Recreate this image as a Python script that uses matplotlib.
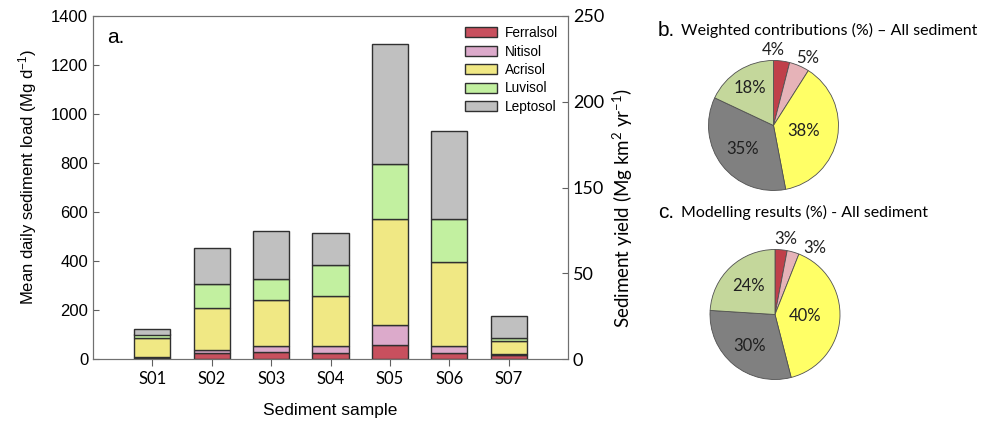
import matplotlib
matplotlib.use("Agg")
import matplotlib.pyplot as plt
import numpy as np

plt.rcParams["font.family"] = ["Liberation Sans", "DejaVu Sans"]
plt.rcParams["mathtext.default"] = "regular"

# bar data (Mg d-1)
samples = ["S01", "S02", "S03", "S04", "S05", "S06", "S07"]
soils = ["Ferralsol", "Nitisol", "Acrisol", "Luvisol", "Leptosol"]
ferralsol = [6, 23, 27, 23, 56, 23, 15]
nitisol = [3, 15, 25, 30, 81, 29, 4]
acrisol = [75, 170, 189, 205, 436, 343, 54]
luvisol = [16, 99, 84, 124, 224, 176, 14]
leptosol = [22, 147, 199, 131, 487, 358, 90]

# right axis: evenly spaced ticks, labelled as in the original (no 100)
yield_ticks = [0, 62.5, 125, 187.5, 250]
yield_labels = ["0", "50", "150", "200", "250"]

# pie data (%)
pie_b = [4, 5, 38, 35, 18]
pie_c = [3, 3, 40, 30, 24]

bar_colors = ["#c8505e", "#dcaacb", "#f0e884", "#c2f0a0", "#c0c0c0"]
pie_colors = ["#c0404a", "#e6b3b8", "#ffff66", "#808080", "#c4d79b"]

W, H = 985, 422
fig = plt.figure(figsize=(W / 100, H / 100), dpi=100)

ax = fig.add_axes([93 / W, 1 - 359 / H, (568 - 93) / W, (359 - 16) / H])
x = np.arange(len(samples))
bottom = np.zeros(len(samples))
for name, vals, col in zip(soils, [ferralsol, nitisol, acrisol, luvisol, leptosol], bar_colors):
    ax.bar(x, vals, 0.61, bottom=bottom, color=col, edgecolor="#303030",
           linewidth=1.0, label=name)
    bottom += np.array(vals)

ax.set_xlim(-1, 7)
ax.set_ylim(0, 1400)
ax.set_yticks(range(0, 1401, 200))
ax.set_xticks(x)
ax.set_xticklabels(samples, family="Lato", fontsize=12)
for lbl in ax.get_yticklabels():
    lbl.set_fontsize(12)
ax.tick_params(axis="y", direction="in", length=4, color="#606060")
ax.tick_params(axis="x", direction="out", length=5, color="#606060")
for s in ax.spines.values():
    s.set_color("#707070")
ax.set_ylabel("Mean daily sediment load (Mg d$^{-1}$)", fontsize=12)
ax.yaxis.set_label_coords(-0.113, 0.53)
ax.set_xlabel("Sediment sample", fontsize=12.5, labelpad=12)
ax.text(0.03, 0.965, "a.", transform=ax.transAxes, fontsize=15, va="top")
leg = ax.legend(loc="upper right", frameon=False, prop={"size": 9.8},
                handlelength=2.3, handleheight=0.75, labelspacing=0.32, handletextpad=0.6,
                borderaxespad=0.35)
for p in leg.get_patches():
    p.set_edgecolor("#303030")

ax2 = ax.twinx()
ax2.set_ylim(0, 250)
ax2.set_yticks(yield_ticks)
ax2.set_yticklabels(yield_labels, family="Lato", fontsize=13)
ax2.tick_params(axis="y", direction="in", length=4, color="#606060")
for s in ax2.spines.values():
    s.set_color("#707070")
ax2.set_ylabel("Sediment yield (Mg km$^{2}$ yr$^{-1}$)", family="Lato", fontsize=13.5)
ax2.yaxis.set_label_coords(1.09, 0.44)


def draw_pie(cx, cy, r, vals, radii, shifts, title_letter, title, ty):
    pa = fig.add_axes([(cx - r) / W, 1 - (cy + r) / H, 2 * r / W, 2 * r / H])
    wedges, _ = pa.pie(vals, colors=pie_colors, startangle=90, counterclock=False,
                       wedgeprops={"edgecolor": "#505050", "linewidth": 0.6})
    pa.set_xlim(-1, 1)
    pa.set_ylim(-1, 1)
    pa.set_aspect("equal")
    pa.axis("off")
    for w, v, rr, sh in zip(wedges, vals, radii, shifts):
        ang = np.deg2rad((w.theta1 + w.theta2) / 2 + sh)
        pa.text(rr * np.cos(ang), rr * np.sin(ang), f"{v}%", ha="center", va="center",
                family="Lato", fontsize=12, color="#202020", clip_on=False)
    fig.text(658 / W, 1 - ty / H, title_letter, fontsize=15, va="center")
    fig.text(681 / W, 1 - ty / H, title, family="Lato", fontsize=11.5, va="center")


draw_pie(773.5, 125.5, 65, pie_b, [1.16, 1.17, 0.47, 0.6, 0.68], [7.7, -3.6, 0, 0, 0],
         "b.", "Weighted contributions (%) \u2013 All sediment", 30)
draw_pie(775, 314.5, 65, pie_c, [1.17, 1.19, 0.47, 0.62, 0.6], [-2.6, -15, 0, 0, 0],
         "c.", "Modelling results (%) - All sediment", 212)

fig.savefig("out.png", dpi=100)
